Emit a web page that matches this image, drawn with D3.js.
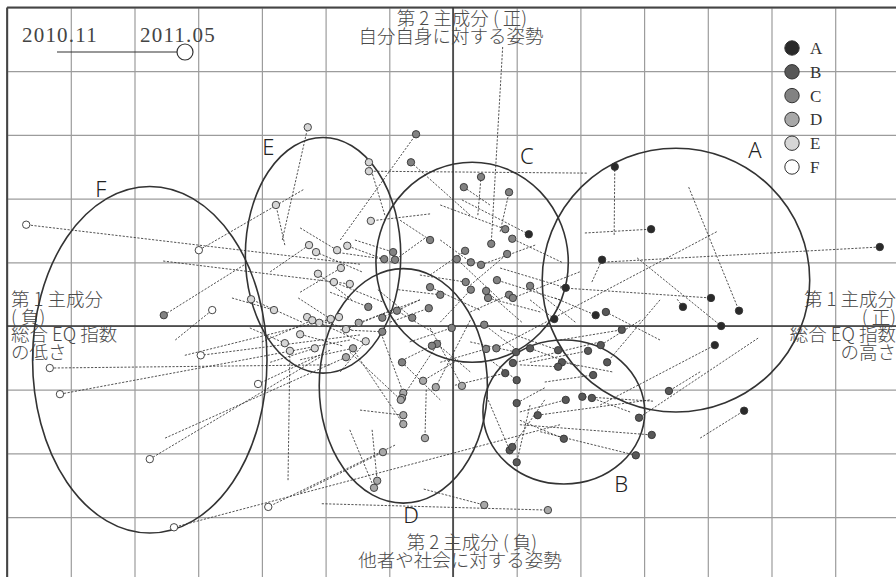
<!DOCTYPE html>
<html>
<head>
<meta charset="utf-8">
<script src="https://cdn.jsdelivr.net/npm/d3@7/dist/d3.min.js"></script>
<style>
  body { margin: 0; background: #fff; }
  svg { display: block; }
</style>
</head>
<body>
<svg id="chart" width="896" height="577"></svg>
<script>
// PCA scatter: each row = [x, y, x0, y0]
// (x, y) = 2011.05 score (marker), (x0, y0) = 2010.11 score (dashed line start)
const groupA = [
  [2.54, 2.50, 2.53, 1.43], [3.11, 1.52, 2.07, 1.46], [6.70, 1.24, 2.31, 1.00],
  [2.34, 1.04, 2.18, 0.69], [4.05, 0.44, 1.68, 0.60], [3.61, 0.30, 3.52, 0.42],
  [4.49, 0.24, 3.70, 2.18], [4.21, 0.00, 2.89, 1.07], [4.11, -0.30, 2.31, -1.24],
  [4.57, -1.33, 3.88, -1.76], [2.24, 0.17, 1.60, 0.44], [1.19, 1.44, 0.14, 1.98],
  [1.77, 0.60, 0.74, 0.91], [1.59, 0.11, 1.21, 0.41]
];
const groupB = [
  [3.39, -1.02, 3.88, -0.72], [2.92, -1.44, 4.79, -0.19], [3.12, -1.71, 1.05, -1.55],
  [2.87, -2.03, 1.37, -1.66], [1.00, -1.21, 1.44, -0.97], [1.77, -1.16, 1.05, -1.35],
  [2.03, -1.11, 3.14, -1.18], [2.18, -1.13, 2.78, -1.35], [1.33, -1.40, 3.09, -1.16],
  [1.74, -1.77, 1.05, -1.48], [0.89, -1.95, 0.53, -1.11], [0.93, -1.90, 1.44, -1.16],
  [1.00, -2.14, 1.21, -1.24], [1.00, -0.85, 0.58, -0.53], [2.40, 0.22, 3.25, -0.22],
  [2.65, -0.06, 1.68, -0.22], [2.32, -0.30, 2.94, 0.09], [2.12, -0.39, 1.21, -0.57],
  [2.42, -0.57, 3.25, 0.41], [2.20, -0.77, 1.44, -0.88], [0.99, -0.41, 0.27, -0.25],
  [0.94, -0.58, 2.31, -0.25], [0.82, -0.74, 0.03, -0.93], [1.21, -0.35, 1.96, -0.63],
  [1.65, -0.38, 0.74, -0.06], [1.71, -0.57, 2.50, -0.72], [1.65, -0.64, 1.05, -0.61]
];
const groupC = [
  [-0.58, 3.01, -1.77, 1.35], [-0.66, 2.57, 0.27, 1.74], [0.44, 2.34, 0.39, 1.74],
  [0.17, 2.18, 0.58, 1.90], [0.88, 2.10, 0.74, 1.48], [0.82, 1.52, -0.20, 1.90],
  [0.93, 1.37, 1.71, 1.00], [-0.36, 1.35, -0.83, 1.66], [0.60, 1.29, 0.78, 4.38],
  [0.19, 1.18, -0.36, 0.80], [0.85, 1.13, 0.27, 0.64], [-0.94, 1.16, -1.54, 1.35],
  [-0.91, 1.04, -0.44, 1.38], [-1.08, 1.05, -1.85, 1.16], [0.06, 1.05, 0.74, 0.41],
  [0.28, 1.00, -0.20, 1.35], [0.44, 0.96, 1.29, 1.27], [0.69, 0.72, 1.68, 0.41],
  [0.20, 0.69, -0.52, 0.80], [1.21, 0.63, 1.92, 0.06], [-0.36, 0.61, 0.42, 0.25],
  [0.28, 0.57, -0.20, 0.06], [0.52, 0.55, 1.08, 0.06], [-0.20, 0.49, -0.86, 0.57],
  [0.55, 0.44, 1.37, 0.22], [0.88, 0.49, 0.27, 0.22], [-0.38, 0.28, -0.99, 0.06],
  [-0.02, -0.03, -0.68, -0.25], [0.49, 0.02, 1.05, -0.41], [-0.25, -0.28, 0.27, -0.72],
  [-0.33, -0.31, -0.86, -0.57], [0.68, -0.35, 4.14, 1.48], [0.52, -0.36, -0.20, -0.57],
  [-4.54, 0.17, -3.23, 0.99], [0.94, 0.44, 1.99, 0.85], [-0.88, 0.24, -0.33, -0.09],
  [-0.64, 0.13, -1.18, 0.57], [-1.33, 0.30, -1.93, 0.53], [-1.11, 0.13, -0.52, 0.41],
  [-0.80, -0.57, -0.20, -1.16], [-1.11, -0.09, -1.77, -0.06]
];
const groupD = [
  [-0.78, -1.05, -1.15, -0.06], [-0.80, -1.13, -0.20, -0.22], [-0.82, -1.16, -1.62, -0.41],
  [-0.27, -0.96, 0.27, 0.09], [0.14, -0.94, -0.36, -0.03], [-0.47, -0.86, 0.08, -0.53],
  [-0.78, -1.40, -1.46, -1.32], [-0.78, -1.54, -1.54, -0.41], [-0.44, -1.76, -0.42, -1.00],
  [-1.10, -1.98, -2.40, -2.62], [-1.19, -2.43, -1.27, -1.63], [-1.24, -2.54, -1.62, -1.63],
  [0.49, -2.81, -0.46, -2.56], [1.49, -2.89, -2.06, -2.79], [-1.48, 0.05, -0.52, 0.41],
  [-1.57, -0.35, -2.40, -0.53], [-1.68, -0.49, -4.52, -1.76]
];
const groupE = [
  [-2.28, 3.12, -2.68, 1.35], [-1.32, 2.57, -1.07, 1.74], [-1.32, 2.43, 2.10, 2.40],
  [-2.78, 1.90, -2.64, 1.27], [-1.29, 1.65, -0.36, 1.76], [-2.26, 1.27, -2.87, 0.85],
  [-2.15, 1.16, -1.43, 0.85], [-1.82, 1.19, -2.40, 1.54], [-1.66, 1.26, -0.96, 1.00],
  [-1.76, 0.91, -2.40, 0.53], [-2.12, 0.82, -1.59, 0.41], [-1.87, 0.69, -1.11, 0.38],
  [-1.62, 0.66, -4.55, 1.02], [-2.29, 0.14, -1.59, -0.06], [-2.21, 0.09, -3.00, -0.25],
  [-2.10, 0.05, -1.43, -0.25], [-1.92, 0.11, -2.43, 0.44], [-1.79, 0.14, -4.21, -0.46],
  [-2.56, -0.39, -2.59, -2.42], [-2.17, -0.35, -2.87, -0.57], [-1.37, -0.24, -1.77, -0.72],
  [-1.68, -0.05, -0.96, 0.25], [-3.17, 0.42, -2.37, 0.06], [-2.81, 0.25, -3.47, 0.44],
  [-2.40, -0.13, -1.74, -0.31], [-2.64, -0.27, -3.19, -0.03]
];
const groupF = [
  [-6.70, 1.59, -1.46, 0.97], [-3.99, 1.19, -2.35, 2.14], [-3.78, 0.25, -4.36, -0.22],
  [-3.96, -0.46, -1.46, -0.14], [-6.33, -0.66, -1.93, -0.61], [-6.17, -1.07, -1.62, -0.22],
  [-4.76, -2.09, -2.09, -0.49], [-4.38, -3.16, 1.68, -1.55], [-2.90, -2.84, -0.91, -1.87],
  [-3.06, -0.91, -1.93, -0.38]
];

const groupKeys = ['A', 'B', 'C', 'D', 'E', 'F'];
const groupFills = ['#2a2a2a', '#585858', '#828282', '#a8a8a8', '#d6d6d6', '#ffffff'];

// cluster ellipses (centre / radii in score units) and their letter positions
const ellipseCx = [3.50, 1.74, 0.30, -0.78, -2.04, -4.76];
const ellipseCy = [0.72, -1.35, 1.00, -0.94, 1.11, -0.53];
const ellipseRx = [2.10, 1.27, 1.51, 1.32, 1.22, 1.84];
const ellipseRy = [2.07, 1.13, 1.57, 1.84, 1.85, 2.72];
const labelX = [4.74, 2.64, 1.16, -0.66, -2.90, -5.53];
const labelY = [2.64, -2.61, 2.54, -3.09, 2.68, 2.03];

const gridX = [-7, -6, -5, -4, -3, -2, -1, 0, 1, 2, 3, 4, 5, 6, 7];
const gridY = [-3, -2, -1, 0, 1, 2, 3, 4, 5];

const W = 896, H = 577;
const svg = d3.select('#chart');

const x = d3.scaleLinear().domain([-7, 7]).range([7.1, 898.9]);
const y = d3.scaleLinear().domain([-4, 5]).range([580.8, 7.5]);

const jpFont = '"Noto Sans CJK JP", "Noto Sans", sans-serif';
const serifFont = '"Liberation Serif", "DejaVu Serif", serif';

// grid
const gx = svg.append('g').attr('transform', `translate(0,${H})`)
  .call(d3.axisBottom(x).tickValues(gridX).tickSize(-(H - y(5))).tickFormat(''));
const gy = svg.append('g').attr('transform', `translate(${x(-7)},0)`)
  .call(d3.axisLeft(y).tickValues(gridY).tickSize(-(W - x(-7))).tickFormat(''));
[gx, gy].forEach(g => {
  g.select('.domain').remove();
  g.selectAll('.tick line').attr('stroke', '#9c9c9c').attr('stroke-width', 1.2);
});

// frame (top / left) and the two principal axes
svg.append('line').attr('x1', x(-7)).attr('x2', W).attr('y1', y(5)).attr('y2', y(5))
  .attr('stroke', '#444').attr('stroke-width', 2);
svg.append('line').attr('x1', x(-7)).attr('x2', x(-7)).attr('y1', y(5)).attr('y2', H)
  .attr('stroke', '#444').attr('stroke-width', 2);
svg.append('line').attr('x1', x(-7)).attr('x2', W).attr('y1', y(0)).attr('y2', y(0))
  .attr('stroke', '#333').attr('stroke-width', 1.5);
svg.append('line').attr('x1', x(0)).attr('x2', x(0)).attr('y1', y(5)).attr('y2', H)
  .attr('stroke', '#333').attr('stroke-width', 1.5);

// axis titles (one text block each, lines as tspans)
const titles = [
  { lines: ['第 2 主成分 ( 正)', '自分自身に対する姿勢'], xs: [462, 451], py: 25, a: 'middle' },
  { lines: ['第 2 主成分 ( 負)', '他者や社会に対する姿勢'], xs: [472, 460], py: 549, a: 'middle' },
  { lines: ['第 1 主成分', '( 負)', '総合 EQ 指数', 'の低さ'], xs: [11, 11, 11, 11], py: 306, a: 'start' },
  { lines: ['第 1 主成分', '( 正)', '総合 EQ 指数', 'の高さ'], xs: [896, 896, 896, 896], py: 306, a: 'end' }
];
const tBlocks = svg.append('g').selectAll('text').data(titles).enter().append('text')
  .attr('y', d => d.py)
  .attr('text-anchor', d => d.a)
  .style('font-family', jpFont).style('font-size', '18.5px').style('font-weight', 300)
  .attr('fill', '#4a4a4a');
tBlocks.each(function (d) {
  const t = d3.select(this);
  d.lines.forEach((s, i) => {
    t.append('tspan').attr('x', d.xs[i]).attr('dy', i === 0 ? 0 : 17.5).text(s);
  });
});

// all points with group info
const groups = [groupA, groupB, groupC, groupD, groupE, groupF];
const points = [];
groups.forEach((rows, gi) => rows.forEach(r => points.push({ g: gi, x: r[0], y: r[1], x0: r[2], y0: r[3] })));

// movement lines 2010.11 -> 2011.05
svg.append('g').selectAll('line').data(points).enter().append('line')
  .attr('x1', d => x(d.x0)).attr('y1', d => y(d.y0))
  .attr('x2', d => x(d.x)).attr('y2', d => y(d.y))
  .attr('stroke', '#333').attr('stroke-width', 0.85)
  .attr('stroke-dasharray', '2.2,1.5');

// cluster ellipses
svg.append('g').selectAll('ellipse').data(groupKeys).enter().append('ellipse')
  .attr('cx', (d, i) => x(ellipseCx[i]))
  .attr('cy', (d, i) => y(ellipseCy[i]))
  .attr('rx', (d, i) => x(ellipseRx[i]) - x(0))
  .attr('ry', (d, i) => y(0) - y(ellipseRy[i]))
  .attr('fill', 'none').attr('stroke', '#333').attr('stroke-width', 1.6);

svg.append('g').selectAll('text').data(groupKeys).enter().append('text')
  .attr('x', (d, i) => x(labelX[i])).attr('y', (d, i) => y(labelY[i]))
  .attr('text-anchor', 'middle')
  .style('font-family', '"Noto Sans", "DejaVu Sans", sans-serif')
  .style('font-size', '22px').style('font-weight', 300)
  .attr('fill', '#222')
  .text(d => d);

// 2011.05 markers
svg.append('g').selectAll('circle').data(points).enter().append('circle')
  .attr('cx', d => x(d.x)).attr('cy', d => y(d.y)).attr('r', 3.7)
  .attr('fill', d => groupFills[d.g])
  .attr('stroke', '#333').attr('stroke-width', 0.9);

// legend: groups
const legend = svg.append('g').attr('transform', 'translate(792,48)');
const item = legend.selectAll('g').data(groupKeys).enter().append('g')
  .attr('transform', (d, i) => `translate(0,${i * 23.8})`);
item.append('circle').attr('r', 7.2)
  .attr('fill', (d, i) => groupFills[i]).attr('stroke', '#333').attr('stroke-width', 1);
item.append('text').attr('x', 18).attr('y', 6)
  .style('font-family', serifFont).style('font-size', '17px')
  .attr('fill', '#333').text(d => d);

// legend: time direction
svg.append('text').attr('x', 22).attr('y', 42).text('2010.11')
  .style('font-family', serifFont).style('font-size', '21px').style('letter-spacing', '1.2px')
  .attr('fill', '#444');
svg.append('text').attr('x', 140).attr('y', 42).text('2011.05')
  .style('font-family', serifFont).style('font-size', '21px').style('letter-spacing', '1.2px')
  .attr('fill', '#444');
svg.append('line').attr('x1', 57).attr('x2', 178).attr('y1', 52).attr('y2', 52)
  .attr('stroke', '#333').attr('stroke-width', 1.2);
svg.append('circle').attr('cx', 185).attr('cy', 52).attr('r', 8)
  .attr('fill', '#fff').attr('stroke', '#333').attr('stroke-width', 1.2);
</script>
</body>
</html>
